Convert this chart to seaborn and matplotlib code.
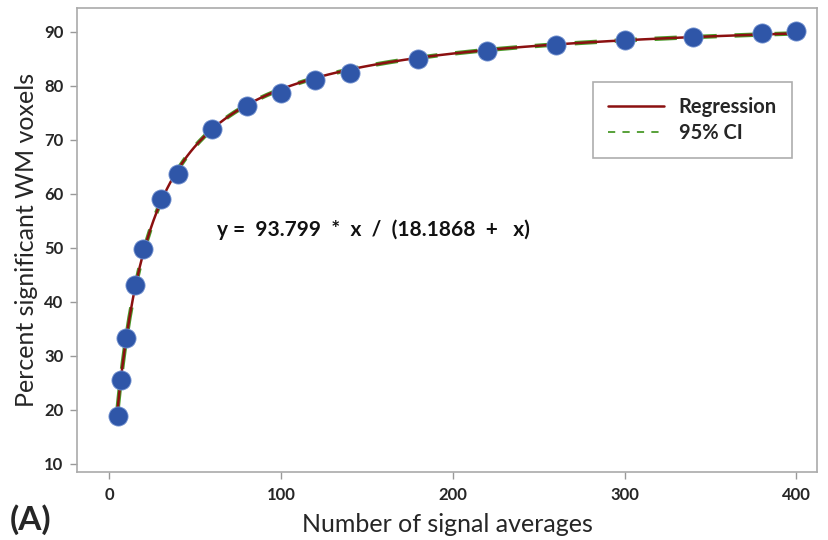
import numpy as np
import pandas as pd
import matplotlib.pyplot as plt
import seaborn as sns

# Measured points
averages = [5, 7, 10, 15, 20, 30, 40, 60, 80, 100, 120, 140, 180, 220, 260, 300, 340, 380, 400]
percent_wm = [18.9, 25.6, 33.3, 43.1, 49.8, 59.1, 63.7, 72.0, 76.3, 78.7, 81.0, 82.4,
              85.0, 86.5, 87.6, 88.5, 89.1, 89.8, 90.2]

# Fitted model parameters (as printed on the chart)
vmax = 93.799
km = 18.1868

x_ticks = [0, 100, 200, 300, 400]
y_ticks = [10, 20, 30, 40, 50, 60, 70, 80, 90]

df = pd.DataFrame({'averages': averages, 'percent': percent_wm})
xfit = np.linspace(5, 400, 400)
fit = pd.DataFrame({'averages': xfit, 'percent': vmax * xfit / (km + xfit)})

sns.set_style('white')
plt.rcParams['font.family'] = ['Lato', 'DejaVu Sans']

fig = plt.figure(figsize=(8.29, 5.40), dpi=100)
ax = fig.add_axes([0.093, 0.126, 0.8925, 0.859])

sns.lineplot(data=fit, x='averages', y='percent', ax=ax, color='#4a9a2a',
             linestyle=(0, (5, 4)), linewidth=3.2, label='95% CI', zorder=2)
sns.lineplot(data=fit, x='averages', y='percent', ax=ax, color='#8b1010',
             linewidth=1.8, label='Regression', zorder=3)
sns.scatterplot(data=df, x='averages', y='percent', ax=ax, s=190, color='#2f56a8',
                edgecolor='#6f8fcf', linewidth=0.6, zorder=4, legend=False)

ax.set_xlim(-18.6, 412)
ax.set_ylim(8.5, 94.4)
ax.set_xticks(x_ticks)
ax.set_yticks(y_ticks)
for lab in ax.get_xticklabels() + ax.get_yticklabels():
    lab.set_fontweight('bold')
    lab.set_fontsize(12)
ax.tick_params(axis='both', bottom=True, left=True, direction='out', length=5,
               width=1, color='#999999', pad=5)
ax.tick_params(axis='x', pad=6)

for s in ax.spines.values():
    s.set_color('#aaaaaa')
    s.set_linewidth(1.2)

ax.set_xlabel('Number of signal averages', fontsize=18, labelpad=7)
ax.set_ylabel('Percent significant WM voxels', fontsize=18, labelpad=4)

ax.text(63, 53.3, 'y =  93.799  *  x  /  (18.1868  +   x)', fontsize=15, fontweight='bold',
        va='center', ha='left', color='#111111')

handles, labels = ax.get_legend_handles_labels()
order = [1, 0]
leg = ax.legend([handles[i] for i in order], [labels[i] for i in order],
                loc='upper right', bbox_to_anchor=(0.966, 0.8405), frameon=True,
                fancybox=False, edgecolor='#999999', fontsize=14.5,
                handlelength=2.8, handletextpad=0.7, borderpad=0.75,
                labelspacing=0.3, borderaxespad=0)
leg.get_frame().set_linewidth(1.2)
for t in leg.get_texts():
    t.set_fontweight('bold')
    t.set_ha('right')
leg.get_lines()[1].set_linewidth(1.3)
leg.get_lines()[1].set_linestyle((0, (4, 4)))

fig.text(0.012, 0.018, '(A)', fontsize=24, fontweight='bold')

fig.savefig('out.png', dpi=100)
